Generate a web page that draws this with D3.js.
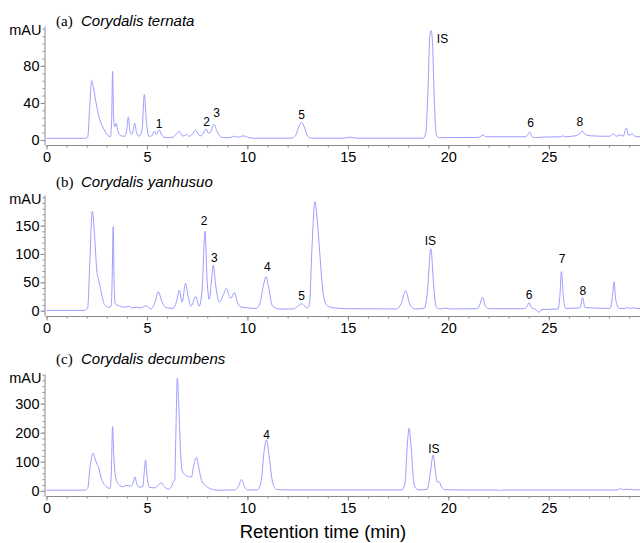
<!DOCTYPE html>
<html>
<head>
<meta charset="utf-8">
<script src="https://cdn.jsdelivr.net/npm/d3@7"></script>
<style>
  body { margin: 0; background: #fff; }
  svg text { font-family: "Liberation Sans", Arial, sans-serif; fill: #000; }
</style>
</head>
<body>
<div id="chart"></div>
<script>
// retention time (min), absorbance (mAU)
const traceTernata = [
  [0,1.8],[1.9,1.8],[2.05,3],[2.15,35],[2.25,64],[2.35,55],[2.5,36],[2.65,22],[2.85,12],[3.05,5],[3.18,3.5],[3.24,20],[3.29,74],[3.34,25],[3.4,14],[3.47,18],[3.55,10],[3.7,4.5],[3.9,4],[4.0,12],[4.07,25],[4.15,10],[4.25,6],[4.33,12],[4.39,18],[4.47,9],[4.6,4],[4.75,10],[4.87,49],[4.97,20],[5.1,4],[5.25,4.5],[5.37,9.5],[5.47,6],[5.6,11],[5.75,5],[5.95,2.5],[6.3,3],[6.45,6],[6.6,9.5],[6.75,4.5],[6.85,4.5],[6.97,6],[7.1,4],[7.25,6],[7.42,10.5],[7.6,5],[7.7,4.5],[7.85,9],[7.94,12],[8.05,7.5],[8.15,8],[8.33,17],[8.5,9],[8.7,3],[9.0,2.5],[9.2,3],[9.35,4.2],[9.5,3],[9.65,3.5],[9.8,4.5],[10.0,3],[10.3,2],[12.2,2],[12.4,5],[12.55,14],[12.7,19],[12.85,13],[13.0,4],[13.2,2],[14.8,2],[15.1,3],[15.4,2],[18.75,2],[18.88,8],[18.98,50],[19.08,112],[19.14,118],[19.2,110],[19.3,45],[19.4,6],[19.55,2.5],[21.5,2.8],[21.62,4],[21.73,5.5],[21.85,3.5],[23.85,3.5],[23.95,5.5],[24.05,8.6],[24.15,4],[24.3,2.5],[24.6,3],[25.6,3.5],[25.7,4.5],[25.8,3.5],[26.3,4.5],[26.55,7],[26.66,10],[26.8,6],[27.1,4.5],[28.0,4],[28.23,6.5],[28.35,4],[28.58,5.5],[28.7,4],[28.86,13],[28.98,5],[29.15,6.5],[29.3,4],[29.55,3.5]
];
const traceYanhusuo = [
  [0,0.5],[1.9,0.5],[2.05,5],[2.15,80],[2.28,175],[2.38,140],[2.5,72],[2.62,51],[2.75,28],[2.9,10],[3.1,6],[3.22,8],[3.27,60],[3.32,148],[3.37,40],[3.42,12],[3.6,9],[3.9,6],[4.1,8],[4.25,5],[4.5,6],[4.7,5],[4.95,8.5],[5.2,3],[5.4,15],[5.56,33.5],[5.75,15],[6.0,5],[6.3,4],[6.5,20],[6.61,36.5],[6.75,15],[6.92,48],[7.05,25],[7.2,8],[7.42,25],[7.6,8],[7.75,40],[7.89,140],[8.0,50],[8.1,20],[8.2,50],[8.3,80],[8.42,45],[8.6,15],[8.8,28],[8.96,39.5],[9.1,25],[9.18,22],[9.35,32],[9.5,15],[9.65,7],[10.0,5],[10.4,4],[10.6,10],[10.8,45],[10.92,60],[11.05,42],[11.25,8],[11.6,3],[12.3,3],[12.5,8],[12.7,12],[12.85,8],[13.0,5],[13.1,15],[13.2,100],[13.36,192],[13.5,150],[13.6,102],[13.77,31],[13.94,10],[14.27,5],[15,3.5],[17.4,3],[17.65,12],[17.87,35],[18.1,10],[18.35,3],[18.8,4],[18.95,30],[19.13,109],[19.28,40],[19.4,6],[19.6,3],[19.85,4.5],[20.1,3],[21.45,3.5],[21.58,12],[21.7,23.5],[21.85,8],[22.0,3.5],[23.8,3.5],[23.93,8],[24.02,14],[24.15,5],[24.35,2],[24.5,-3],[24.65,2],[25.45,3],[25.55,25],[25.63,69],[25.72,25],[25.85,4],[26.55,5],[26.68,23],[26.8,6],[27.0,5],[28.05,4],[28.17,25],[28.25,51],[28.33,20],[28.5,4],[28.85,4],[28.92,6],[29.0,4],[29.2,5],[29.35,4],[29.55,4]
];
const traceDecumbens = [
  [0,2],[1.9,2],[2.05,8],[2.18,90],[2.33,129],[2.42,110],[2.52,90],[2.6,80],[2.68,55],[2.77,35],[2.96,15],[3.16,8],[3.22,50],[3.29,221],[3.35,120],[3.42,55],[3.57,23],[3.82,14],[3.95,18],[4.07,18],[4.2,16],[4.32,30],[4.4,48],[4.5,22],[4.62,12],[4.8,15],[4.86,60],[4.93,106],[5.0,55],[5.12,12],[5.4,10],[5.57,20],[5.7,27.6],[5.85,15],[6.06,6],[6.2,12],[6.31,32],[6.38,35],[6.44,200],[6.51,388],[6.58,300],[6.66,150],[6.75,70],[6.9,55],[7.13,48],[7.22,48],[7.32,85],[7.47,115],[7.58,80],[7.72,35],[7.97,15],[8.3,4],[8.6,2],[9.4,3],[9.55,15],[9.71,39],[9.85,15],[10.0,3],[10.5,3],[10.7,40],[10.82,130],[10.95,175],[11.08,120],[11.25,30],[11.45,5],[11.8,3],[17.7,3],[17.85,30],[17.95,150],[18.05,215],[18.15,150],[18.3,20],[18.5,3],[18.95,5],[19.1,60],[19.24,123],[19.37,60],[19.45,30],[19.54,31],[19.65,15],[19.8,4],[20.2,3],[22.5,2.5],[22.6,0],[22.7,2.5],[28.4,2.5],[28.5,5],[28.57,8],[28.67,4],[28.8,4],[28.9,6],[29.0,4],[29.1,5],[29.2,3],[29.55,3]
];

// peak labels: text, retention time, height of label (mAU)
const peaksTernata = [["1",5.61,18],["2",7.97,19.8],["3",8.47,28.9],["5",12.7,27],["IS",19.71,109],["6",24.1,19],["8",26.54,19.8]];
const peaksYanhusuo = [["2",7.85,158.7],["3",8.35,94],["4",10.99,76.5],["5",12.7,26],["IS",19.11,123],["6",24.02,27.7],["7",25.66,90.6],["8",26.7,35.3]];
const peaksDecumbens = [["4",10.96,192],["IS",19.28,146]];

const xTicks = [0, 5, 10, 15, 20, 25];
const panelTitles = [["(a)", "Corydalis ternata"], ["(b)", "Corydalis yanhusuo"], ["(c)", "Corydalis decumbens"]];
const yTicksA = [0, 40, 80];
const yTicksB = [0, 50, 100, 150];
const yTicksC = [0, 100, 200, 300];
const xTitle = "Retention time (min)";

const width = 640, height = 543;
const svg = d3.select("#chart").append("svg")
  .attr("width", width)
  .attr("height", height);

const x = d3.scaleLinear().domain([0, 29.54]).range([46.5, 640]);

const panels = [
  {trace: traceTernata, peaks: peaksTernata, ticks: yTicksA, minor: 8, dom: [-5.4, 123], top: 26, bottom: 145, titleY: 26, title: panelTitles[0]},
  {trace: traceYanhusuo, peaks: peaksYanhusuo, ticks: yTicksB, minor: 10, dom: [-9.4, 204], top: 195, bottom: 316, titleY: 186.5, title: panelTitles[1]},
  {trace: traceDecumbens, peaks: peaksDecumbens, ticks: yTicksC, minor: 20, dom: [-18, 402], top: 374, bottom: 496, titleY: 364, title: panelTitles[2]}
];

const axisColor = "#8a8a8a";

panels.forEach(p => {
  const y = d3.scaleLinear().domain(p.dom).range([p.bottom, p.top]);
  const g = svg.append("g");

  // minor ticks
  const xMinor = d3.range(0, 30, 1);
  g.append("g")
    .attr("transform", `translate(0,${p.bottom})`)
    .call(d3.axisBottom(x).tickValues(xMinor).tickSize(2.5).tickFormat("").tickSizeOuter(0))
    .call(a => a.select(".domain").remove());
  const yMinor = d3.range(0, p.dom[1], p.minor);
  g.append("g")
    .attr("transform", `translate(${x(0) - 2},0)`)
    .call(d3.axisLeft(y).tickValues(yMinor).tickSize(2).tickFormat("").tickSizeOuter(0))
    .call(a => a.select(".domain").remove());

  // major axes
  g.append("g")
    .attr("transform", `translate(0,${p.bottom})`)
    .call(d3.axisBottom(x).tickValues(xTicks).tickSize(4.5).tickPadding(2).tickSizeOuter(0))
    .call(a => a.selectAll("text").style("font-size", "14.5px"));
  g.append("g")
    .attr("transform", `translate(${x(0) - 2},0)`)
    .call(d3.axisLeft(y).tickValues(p.ticks).tickSize(4).tickPadding(1).tickSizeOuter(0))
    .call(a => a.selectAll("text").style("font-size", "14.5px"));

  g.selectAll(".domain, .tick line").attr("stroke", axisColor);

  g.append("text")
    .attr("x", x(0) - 5)
    .attr("y", p.top + 4)
    .attr("dy", "0.35em")
    .attr("text-anchor", "end")
    .style("font-size", "14.5px")
    .text("mAU");

  // title
  const t = g.append("text").attr("y", p.titleY);
  t.append("tspan").attr("x", 56)
    .style("font-family", "'Liberation Serif', 'Times New Roman', serif")
    .style("font-size", "15px")
    .text(p.title[0]);
  t.append("tspan").attr("x", 81)
    .style("font-style", "italic")
    .style("font-size", "15px")
    .text(p.title[1]);

  // trace
  const line = d3.line()
    .x(d => x(d[0]))
    .y(d => y(d[1]))
    .curve(d3.curveMonotoneX);
  g.append("path")
    .datum(p.trace)
    .attr("d", line)
    .attr("fill", "none")
    .attr("stroke", "#9d9dff")
    .attr("stroke-width", 1);

  // peak labels
  g.selectAll(".peak")
    .data(p.peaks)
    .enter().append("text")
    .attr("class", "peak")
    .attr("x", d => x(d[1]))
    .attr("y", d => y(d[2]))
    .attr("dy", "0.35em")
    .attr("text-anchor", "middle")
    .style("font-size", "12px")
    .text(d => d[0]);
});

svg.append("text")
  .attr("x", 323)
  .attr("y", 538)
  .attr("text-anchor", "middle")
  .style("font-size", "18.5px")
  .text(xTitle);
</script>
</body>
</html>
